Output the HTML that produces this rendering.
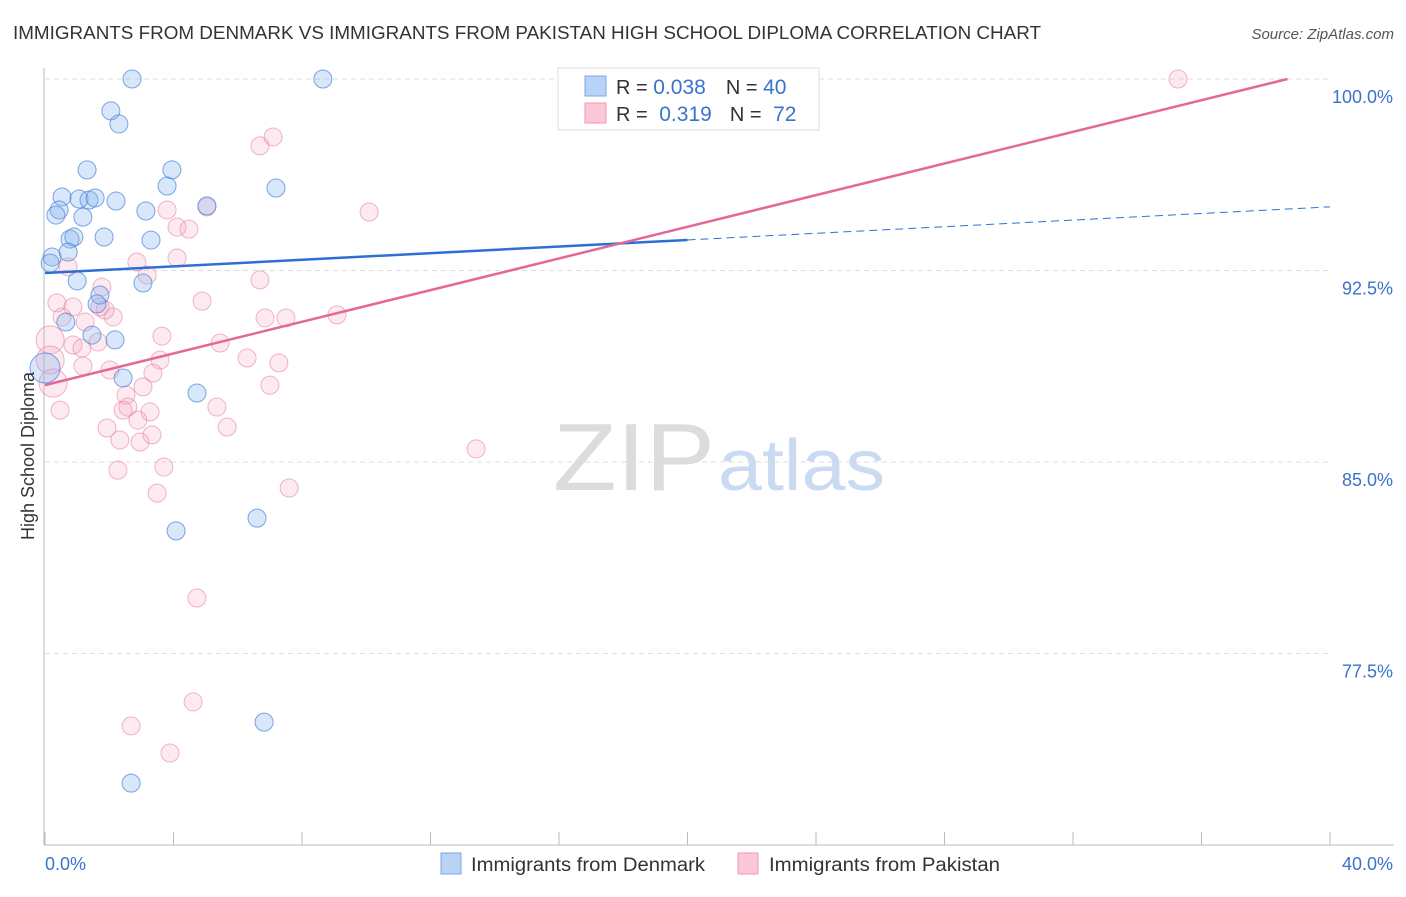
<!DOCTYPE html>
<html><head><meta charset="utf-8"><style>
body{margin:0;background:#fff;font-family:"Liberation Sans",sans-serif}
svg text{font-family:"Liberation Sans",sans-serif}
</style></head><body>
<svg id="c" width="1406" height="892" viewBox="0 0 1406 892" xmlns="http://www.w3.org/2000/svg">
<text x="13" y="39" font-size="18" fill="#333" textLength="1028" lengthAdjust="spacingAndGlyphs">IMMIGRANTS FROM DENMARK VS IMMIGRANTS FROM PAKISTAN HIGH SCHOOL DIPLOMA CORRELATION CHART</text>
<text x="1394" y="39" font-size="15" fill="#555" text-anchor="end" font-style="italic">Source: ZipAtlas.com</text>
<text x="553" y="490" font-size="96" fill="#dcdcdc" font-family="Liberation Serif" textLength="162" lengthAdjust="spacingAndGlyphs">ZIP</text>
<text x="718" y="490" font-size="72" fill="#c9daf2" textLength="167" lengthAdjust="spacingAndGlyphs">atlas</text>
<g id="grid"></g>
<g id="axes"></g>
<g id="pts"></g>
<g id="lines"></g>
<text transform="translate(34,456) rotate(-90)" font-size="18" fill="#333" text-anchor="middle">High School Diploma</text>
<g>
<rect x="558" y="68" width="261" height="62" fill="#fff" stroke="#ddd"/>
<rect x="585" y="76" width="21" height="20" fill="#b8d3f5" stroke="#7aa7e6"/>
<rect x="585" y="103" width="21" height="20" fill="#fac8d6" stroke="#ef9ab4"/>
<text x="616" y="94" font-size="20" fill="#333">R = <tspan fill="#3a73c9" font-size="21">0.038</tspan><tspan dx="20">N = </tspan><tspan fill="#3a73c9" font-size="21">40</tspan></text>
<text x="616" y="121" font-size="20" fill="#333">R = <tspan dx="6" fill="#3a73c9" font-size="21">0.319</tspan><tspan dx="18">N = </tspan><tspan dx="6" fill="#3a73c9" font-size="21">72</tspan></text>
</g>
<g>
<rect x="441" y="853" width="20" height="21" fill="#b8d3f5" stroke="#7aa7e6"/>
<text x="471" y="871" font-size="19" fill="#333" textLength="234" lengthAdjust="spacingAndGlyphs">Immigrants from Denmark</text>
<rect x="738" y="853" width="20" height="21" fill="#fac8d6" stroke="#ef9ab4"/>
<text x="769" y="871" font-size="19" fill="#333" textLength="231" lengthAdjust="spacingAndGlyphs">Immigrants from Pakistan</text>
</g>
</svg>
<script>
const blueX=[2.71,8.65,2.05,2.30,1.31,3.95,3.80,7.19,0.53,0.44,0.34,1.06,1.37,1.56,2.21,1.18,3.14,5.04,1.84,0.78,0.90,3.30,0.72,0.22,0.16,1.00,3.05,1.71,1.62,1.46,0.65,2.18,2.43,4.73,4.08,6.60,6.82,2.68,0,18.68];
const blueY=[100,100,98.75,98.24,96.44,96.44,95.81,95.73,95.38,94.87,94.67,95.30,95.26,95.34,95.22,94.59,94.83,95.03,93.81,93.73,93.81,93.69,93.22,93.03,92.79,92.09,92.01,91.54,91.19,89.97,90.48,89.78,88.29,87.70,82.30,82.80,74.81,72.42,88.68,100];
const pinkX=[7.10,6.69,3.80,4.11,4.48,5.04,2.86,4.11,0.72,3.18,6.69,1.77,0.37,4.89,0.87,0.53,1.25,2.12,1.71,1.87,6.85,7.50,9.09,3.64,5.45,0.16,0.87,1.15,1.65,6.29,7.28,3.58,1.18,2.02,0.16,0.25,3.36,7.00,3.05,2.52,2.58,2.43,3.27,2.89,0.47,5.35,5.67,1.93,3.33,2.33,2.96,2.27,3.70,3.49,7.60,10.09,13.42,4.73,4.61,2.68,3.89,35.27,16.37];
const pinkY=[97.73,97.38,94.87,94.20,94.12,94.99,92.83,92.99,92.64,92.32,92.13,91.85,91.23,91.30,91.07,90.68,90.48,90.68,91.07,90.95,90.64,90.64,90.76,89.93,89.66,89.78,89.58,89.46,89.70,89.07,88.88,88.99,88.76,88.60,88.99,88.09,88.48,88.01,87.94,87.62,87.15,87.03,86.96,86.64,87.03,87.15,86.37,86.33,86.06,85.86,85.78,84.68,84.80,83.78,83.98,94.79,85.51,79.67,75.60,74.66,73.60,100,100];
const bigBlue=[38];
const bigPink=[25,34,35];
const blueLine=[92.40,0.0648];
const pinkLine=[88.01,0.31];
const yTicks=[100,92.5,85,77.5];
const yTickLabels=["100.0%","92.5%","85.0%","77.5%"];
const xTicks=[0,4,8,12,16,20,24,28,32,36,40];
const NS="http://www.w3.org/2000/svg";
const X=v=>45+v*32.125, Y=v=>79+(100-v)*25.53;
function mk(t,a,p){const e=document.createElementNS(NS,t);for(const k in a)e.setAttribute(k,a[k]);document.getElementById(p).appendChild(e);return e;}
yTicks.forEach((t,i)=>{
 const g=mk('line',{x1:45,x2:1330,y1:Y(t),y2:Y(t),stroke:'#ddd','stroke-dasharray':'5,4'},'grid');
 
 
 const l=mk('text',{x:1393,y:Y(t)+24,'font-size':18,fill:'#3a73c9','text-anchor':'end'},'grid');
 
 
 l.textContent=yTickLabels[i];
});
const ax=mk('line',{x1:44,x2:44,y1:68,y2:845,stroke:'#bbb'},'axes');


const bx=mk('line',{x1:44,x2:1394,y1:845,y2:845,stroke:'#bbb'},'axes');


xTicks.forEach(t=>{
 const k=mk('line',{x1:X(t),x2:X(t),y1:832,y2:845,stroke:'#bbb'},'axes');
 
 
});
const x0=mk('text',{x:45,y:870,'font-size':18,fill:'#3a73c9'},'axes');


x0.textContent='0.0%';
const x1=mk('text',{x:1393,y:870,'font-size':18,fill:'#3a73c9','text-anchor':'end'},'axes');


x1.textContent='40.0%';
pinkX.forEach((v,i)=>{
 const c=mk('circle',{cx:X(v),cy:Y(pinkY[i]),r:bigPink.includes(i)?14:9,fill:'rgba(244,160,185,0.22)',stroke:'rgba(232,130,162,0.6)','stroke-width':1},'pts');
 
 
});
blueX.forEach((v,i)=>{
 const c=mk('circle',{cx:X(v),cy:Y(blueY[i]),r:bigBlue.includes(i)?15:9,fill:'rgba(130,175,240,0.3)',stroke:'rgba(70,130,215,0.7)','stroke-width':1},'pts');
 
 
});
const bl=mk('line',{x1:X(0),y1:Y(blueLine[0]),x2:X(20),y2:Y(blueLine[0]+blueLine[1]*20),stroke:'#2e6fd4','stroke-width':2.5},'lines');


const bd=mk('line',{x1:X(20),y1:Y(blueLine[0]+blueLine[1]*20),x2:X(40),y2:Y(blueLine[0]+blueLine[1]*40),stroke:'#2e6fd4','stroke-width':1,'stroke-dasharray':'8,5'},'lines');


const pe=Math.min(40,(100-pinkLine[0])/pinkLine[1]);
const pl=mk('line',{x1:X(0),y1:Y(pinkLine[0]),x2:X(pe),y2:Y(pinkLine[0]+pinkLine[1]*pe),stroke:'#e4679a','stroke-width':2.5},'lines');


</script>
</body></html>
